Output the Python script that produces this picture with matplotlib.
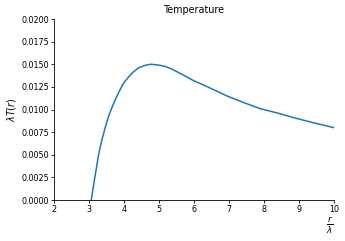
import matplotlib
matplotlib.use("Agg")
import matplotlib.pyplot as plt

# values
r_over_lambda = [3.06, 3.15, 3.27, 3.36, 3.46, 3.55, 3.65, 3.75, 3.84, 3.92, 4.0,
                 4.13, 4.25, 4.41, 4.6, 4.75, 4.9, 5.03, 5.18, 5.35, 5.5, 5.75,
                 5.98, 6.25, 6.5, 6.94, 7.4, 7.89, 8.4, 8.85, 9.4, 10.0]
lambda_T = [0.0, 0.0022, 0.0050, 0.0066, 0.0080, 0.0092, 0.0102, 0.0111, 0.01185,
            0.01245, 0.0130, 0.0136, 0.0141, 0.0146, 0.01488, 0.0150, 0.01496,
            0.01488, 0.01475, 0.0145, 0.0142, 0.0137, 0.0132, 0.01275, 0.0123,
            0.0115, 0.0108, 0.0101, 0.0096, 0.0091, 0.00855, 0.0080]
x_ticks = [2, 3, 4, 5, 6, 7, 8, 9, 10]
y_ticks = [0.0, 0.0025, 0.005, 0.0075, 0.01, 0.0125, 0.015, 0.0175, 0.02]

fig = plt.figure(figsize=(3.45, 2.41), dpi=100)
ax = fig.add_axes([0.157, 0.170, 0.811, 0.751])

ax.plot(r_over_lambda, lambda_T, color="#1f77b4", linewidth=1.1)

ax.set_xlim(2, 10)
ax.set_ylim(0, 0.02)
ax.set_xticks(x_ticks)
ax.set_yticks(y_ticks)
ax.set_yticklabels(["%.4f" % v for v in y_ticks])

ax.spines["top"].set_visible(False)
ax.spines["right"].set_visible(False)
for s in ["left", "bottom"]:
    ax.spines[s].set_linewidth(0.6)
ax.tick_params(labelsize=5.8, width=0.6, length=2.2, pad=1.5)

ax.set_title("Temperature", fontsize=6.9, pad=4)
ax.set_ylabel(r"$\lambda T(r)$", fontsize=6.9, labelpad=2)
ax.set_xlabel(r"$\frac{r}{\lambda}$", fontsize=9, loc="right", labelpad=1)

fig.savefig("out.png", dpi=100)
